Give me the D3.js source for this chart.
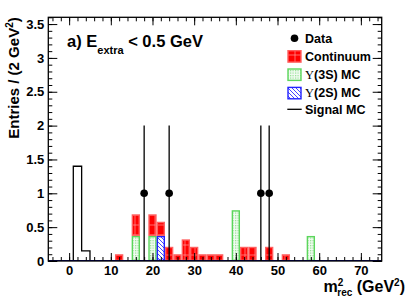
<!DOCTYPE html>
<html>
<head>
<meta charset="utf-8">
<script src="https://cdn.jsdelivr.net/npm/d3@7"></script>
<style>
  body { margin: 0; background: #fff; }
  svg { display: block; font-family: "Liberation Sans", Arial, sans-serif; font-weight: bold; }
</style>
</head>
<body>
<div id="chart-container"></div>
<script>
// bin width is 2 GeV^2, bins start at -5
const binWidth = 2;
const contCenters = [12, 16, 20, 22, 24, 26, 28, 30, 32, 34, 36, 42, 44, 48, 52];
const contValues  = [0.1, 0.32, 0.32, 0.21, 0.21, 0.1, 0.32, 0.21, 0.1, 0.1, 0.1, 0.21, 0.21, 0.21, 0.1];
const y3sCenters = [16, 20, 40, 58];
const y3sValues  = [0.37, 0.37, 0.75, 0.37];
const y2sCenters = [22];
const y2sValues  = [0.37];
const signalCenters = [2, 4];
const signalValues  = [1.4, 0.15];
const dataCenters = [18, 24, 46, 48];
const dataValues  = [1, 1, 1, 1];
const dataErrors  = [1, 1, 1, 1];
const xTicks = [0, 10, 20, 30, 40, 50, 60, 70];
const yTicks = [0, 0.5, 1, 1.5, 2, 2.5, 3, 3.5];

const width = 407, height = 297;
const margin = { top: 17.3, right: 25.3, bottom: 36, left: 48.3 };

const svg = d3.select("#chart-container")
    .append("svg")
    .attr("width", width)
    .attr("height", height);

const x = d3.scaleLinear().domain([-5, 75]).range([margin.left, width - margin.right]);
const y = d3.scaleLinear().domain([0, 3.6]).range([height - margin.bottom, margin.top]);

// fill patterns
const defs = svg.append("defs");
const pRed = defs.append("pattern").attr("id", "pRed").attr("patternUnits", "userSpaceOnUse")
    .attr("width", 10).attr("height", 10);
pRed.append("rect").attr("width", 10).attr("height", 10).attr("fill", "#ff0000");
pRed.append("path").attr("d", "M5,0V10M0,5H10").attr("stroke", "#ffb0b0").attr("stroke-width", 0.6);

const pGreen = defs.append("pattern").attr("id", "pGreen").attr("patternUnits", "userSpaceOnUse")
    .attr("width", 2.5).attr("height", 2.5);
pGreen.append("rect").attr("width", 2.5).attr("height", 2.5).attr("fill", "#f2fbf2");
pGreen.append("rect").attr("width", 1.2).attr("height", 1.2).attr("fill", "#8fe08f");

const pBlue = defs.append("pattern").attr("id", "pBlue").attr("patternUnits", "userSpaceOnUse")
    .attr("width", 4).attr("height", 4);
pBlue.append("rect").attr("width", 4).attr("height", 4).attr("fill", "#ffffff");
pBlue.append("path").attr("d", "M0,0L4,4M-1,3L1,5M3,-1L5,1").attr("stroke", "#3333ff").attr("stroke-width", 0.9);

// stack the three components: Y(3S) at bottom, Y(2S), continuum on top
const allCenters = Array.from(new Set([...contCenters, ...y3sCenters, ...y2sCenters])).sort((a, b) => a - b);
const table = allCenters.map(c => ({
    center: c,
    y3s: y3sValues[y3sCenters.indexOf(c)] || 0,
    y2s: y2sValues[y2sCenters.indexOf(c)] || 0,
    cont: contValues[contCenters.indexOf(c)] || 0
}));
const stack = d3.stack().keys(["y3s", "y2s", "cont"]);
const series = stack(table);
const styles = {
    y3s: { fill: "url(#pGreen)", stroke: "#5cd65c" },
    y2s: { fill: "url(#pBlue)", stroke: "#2222ff" },
    cont: { fill: "url(#pRed)", stroke: "#ff6060" }
};

series.forEach(s => {
    svg.append("g")
        .selectAll("rect")
        .data(s.filter(d => d[1] > d[0]))
        .enter()
        .append("rect")
        .attr("x", d => x(d.data.center - binWidth / 2) + 0.7)
        .attr("width", d => x(d.data.center + binWidth / 2) - x(d.data.center - binWidth / 2) - 1.4)
        .attr("y", d => y(d[1]) + 0.7)
        .attr("height", d => y(d[0]) - y(d[1]) - 1.4)
        .attr("fill", styles[s.key].fill)
        .attr("stroke", styles[s.key].stroke)
        .attr("stroke-width", 1.4);
});

// signal MC outline
const sigPts = [[signalCenters[0] - binWidth / 2, 0]];
signalCenters.forEach((c, i) => {
    sigPts.push([c - binWidth / 2, signalValues[i]]);
    sigPts.push([c + binWidth / 2, signalValues[i]]);
});
sigPts.push([signalCenters[signalCenters.length - 1] + binWidth / 2, 0]);
svg.append("path")
    .attr("d", d3.line().x(d => x(d[0])).y(d => y(d[1]))(sigPts))
    .attr("fill", "none")
    .attr("stroke", "#000")
    .attr("stroke-width", 1.3);

// baseline drawn by the stacked histos
svg.append("line")
    .attr("x1", x(-5)).attr("x2", x(75))
    .attr("y1", y(0) - 0.5).attr("y2", y(0) - 0.5)
    .attr("stroke", "#000080").attr("stroke-width", 1);

// data points with errors
const pts = dataCenters.map((c, i) => ({ c: c, v: dataValues[i], e: dataErrors[i] }));
svg.append("g").selectAll("line")
    .data(pts).enter().append("line")
    .attr("x1", d => x(d.c)).attr("x2", d => x(d.c))
    .attr("y1", d => y(Math.max(0, d.v - d.e))).attr("y2", d => y(d.v + d.e))
    .attr("stroke", "#000").attr("stroke-width", 1.3);
svg.append("g").selectAll("circle")
    .data(pts).enter().append("circle")
    .attr("cx", d => x(d.c)).attr("cy", d => y(d.v))
    .attr("r", 3.8).attr("fill", "#000");

// axes, ticks inside
const minorX = d3.range(-4, 75, 2);
const minorY = d3.range(0, 3.61, 0.1);
const bottomY = height - margin.bottom;
const rightX = width - margin.right;

svg.append("g").attr("transform", `translate(0,${bottomY})`)
    .call(d3.axisBottom(x).tickValues(minorX).tickSize(-4).tickFormat(""))
    .call(g => g.select(".domain").remove());
svg.append("g").attr("transform", `translate(0,${bottomY})`)
    .call(d3.axisBottom(x).tickValues(xTicks).tickSize(-8).tickPadding(5).tickFormat(d3.format("d")))
    .call(g => g.select(".domain").remove())
    .call(g => g.selectAll("text").style("font-size", "13px").style("font-family", "Liberation Sans, Arial").style("font-weight", "bold"));
svg.append("g").attr("transform", `translate(0,${margin.top})`)
    .call(d3.axisTop(x).tickValues(minorX).tickSize(-4).tickFormat(""))
    .call(g => g.select(".domain").remove());
svg.append("g").attr("transform", `translate(0,${margin.top})`)
    .call(d3.axisTop(x).tickValues(xTicks).tickSize(-8).tickFormat(""))
    .call(g => g.select(".domain").remove());

svg.append("g").attr("transform", `translate(${margin.left},0)`)
    .call(d3.axisLeft(y).tickValues(minorY).tickSize(-4).tickFormat(""))
    .call(g => g.select(".domain").remove());
svg.append("g").attr("transform", `translate(${margin.left},0)`)
    .call(d3.axisLeft(y).tickValues(yTicks).tickSize(-9).tickPadding(4).tickFormat(d => d))
    .call(g => g.select(".domain").remove())
    .call(g => g.selectAll("text").style("font-size", "13px").style("font-family", "Liberation Sans, Arial").style("font-weight", "bold"));
svg.append("g").attr("transform", `translate(${rightX},0)`)
    .call(d3.axisRight(y).tickValues(minorY).tickSize(-4).tickFormat(""))
    .call(g => g.select(".domain").remove());
svg.append("g").attr("transform", `translate(${rightX},0)`)
    .call(d3.axisRight(y).tickValues(yTicks).tickSize(-9).tickFormat(""))
    .call(g => g.select(".domain").remove());

svg.selectAll(".tick line").attr("stroke", "#000").attr("stroke-width", 1);

// frame
svg.append("rect")
    .attr("x", margin.left).attr("y", margin.top)
    .attr("width", rightX - margin.left).attr("height", bottomY - margin.top)
    .attr("fill", "none").attr("stroke", "#000").attr("stroke-width", 1.3);

// axis titles
const yTitle = svg.append("text")
    .attr("transform", `translate(19,${margin.top}) rotate(-90)`)
    .attr("text-anchor", "end")
    .style("font-size", "15px");
yTitle.append("tspan").text("Entries / (2 GeV");
yTitle.append("tspan").attr("dy", -6).style("font-size", "10px").text("2");
yTitle.append("tspan").attr("dy", 6).text(")");

const xTitle = svg.append("text")
    .attr("x", 405).attr("y", 292)
    .attr("text-anchor", "end")
    .style("font-size", "16px");
xTitle.append("tspan").text("m");
xTitle.append("tspan").attr("dy", -6).style("font-size", "10px").text("2");
xTitle.append("tspan").attr("dx", -6).attr("dy", 10).style("font-size", "10px").text("rec");
xTitle.append("tspan").attr("dy", -4).text(" (GeV");
xTitle.append("tspan").attr("dy", -6).style("font-size", "10px").text("2");
xTitle.append("tspan").attr("dy", 6).text(")");

// cut label
const lab = svg.append("text").attr("x", 67).attr("y", 47).style("font-size", "16.5px");
lab.append("tspan").text("a) E");
lab.append("tspan").attr("dy", 7).style("font-size", "11px").text("extra");
lab.append("tspan").attr("dy", -7).text(" < 0.5 GeV");

// legend
const lx = 287.3, lw = 14.4, tx = 305;
const legend = svg.append("g").style("font-size", "12.5px");
legend.append("circle").attr("cx", lx + lw / 2).attr("cy", 38.3).attr("r", 3.8).attr("fill", "#000");
legend.append("text").attr("x", tx).attr("y", 42.5).text("Data");
const boxes = [
    { y: 50, key: "cont", label: "Continuum" },
    { y: 68.3, key: "y3s", label: "(3S) MC" },
    { y: 86.7, key: "y2s", label: "(2S) MC" }
];
boxes.forEach(b => {
    legend.append("rect")
        .attr("x", lx + 0.7).attr("y", b.y + 0.7).attr("width", lw - 1.4).attr("height", 11.4)
        .attr("fill", styles[b.key].fill).attr("stroke", styles[b.key].stroke).attr("stroke-width", 1.4);
    const t = legend.append("text").attr("x", tx).attr("y", b.y + 10.5);
    if (b.key !== "cont") {
        t.append("tspan").style("font-family", "Liberation Serif, serif").style("font-weight", "normal").text("\u03A5");
    }
    t.append("tspan").text(b.label);
});
legend.append("line").attr("x1", lx).attr("x2", lx + lw).attr("y1", 109.3).attr("y2", 109.3)
    .attr("stroke", "#000").attr("stroke-width", 1.3);
legend.append("text").attr("x", tx).attr("y", 113.5).text("Signal MC");
</script>
</body>
</html>
